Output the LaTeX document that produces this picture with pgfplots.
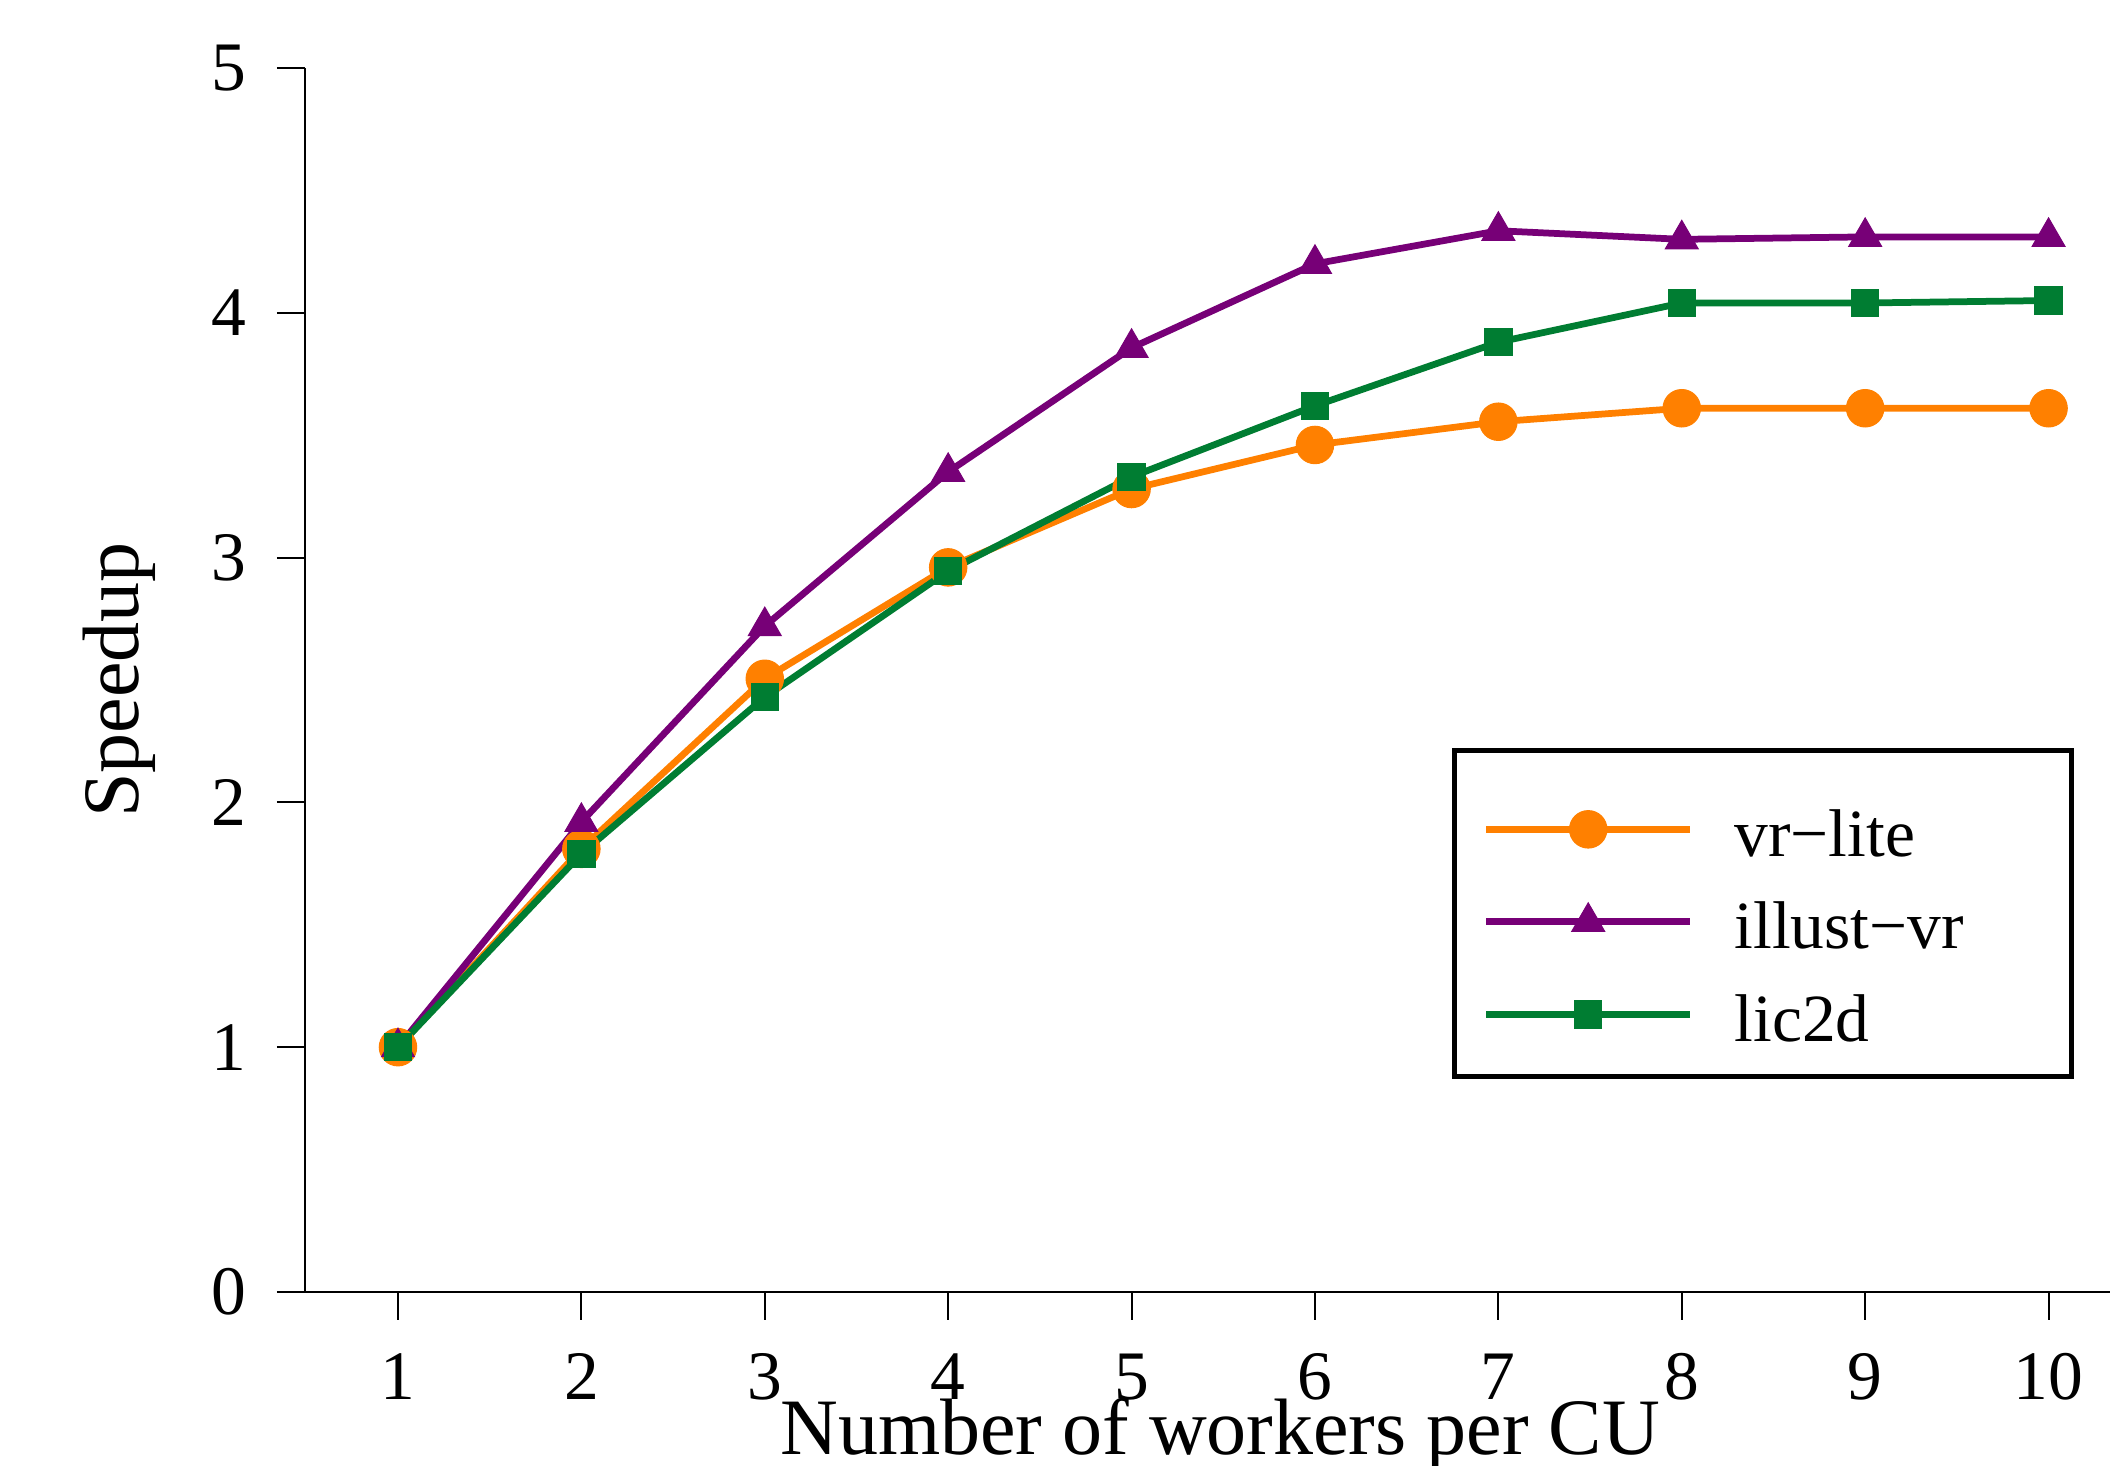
\documentclass[border=0pt]{standalone}
\usepackage{pgfplots}
\pgfplotsset{compat=1.18}
\usepackage{fontspec}
\setmainfont{Liberation Serif}
\definecolor{cOrange}{RGB}{255,128,0}
\definecolor{cPurple}{RGB}{119,0,119}
\definecolor{cGreen}{RGB}{0,125,50}
\begin{document}
\begin{tikzpicture}
% picture frame: 2110x1466 px at 0.2pt per px
\path[use as bounding box] (-61pt,-34.8pt) rectangle (361pt,258.4pt);
\begin{axis}[
  scale only axis, width=361pt, height=244.8pt,
  xmin=0.493, xmax=10.335, ymin=0, ymax=5,
  axis x line=bottom, axis y line=left,
  axis line style={-, line width=0.4pt},
  tick style={line width=0.4pt, black},
  tick align=outside, major tick length=5.6pt,
  xtick={1,...,10}, ytick={0,...,5},
  /pgf/number format/assume math mode=true,
  ticklabel style={font=\fontsize{13.9}{16}\selectfont},
  xticklabel style={yshift=-3.2pt},
  yticklabel style={xshift=-2.7pt},
  label style={font=\fontsize{16}{19}\selectfont},
  xlabel={Number of workers per CU},
  xlabel style={at={(axis description cs:0.507,0)}, anchor=base, yshift=-32.6pt},
  ylabel={Speedup},
  ylabel style={at={(axis description cs:-0.092,0.5)}, anchor=base},
  every axis plot/.append style={line width=1.35pt, mark options={line width=0.2pt}},
  legend cell align=left,
  legend image code/.code={\draw[mark repeat=2,mark phase=2] plot coordinates {(0pt,0pt) (20.4pt,0pt) (40.8pt,0pt)};},
  legend style={at={(axis description cs:0.652,0.4125)}, anchor=north west,
    draw=none, fill=none, inner sep=0pt,
    font=\fontsize{13.5}{16}\selectfont,
    row sep=2pt, column sep=6.2pt,
    nodes={text height=11.6pt, text depth=0.9pt}},
]
\addplot[cOrange, mark=*, mark size=3.75pt] coordinates {
  (1,1.00) (2,1.81) (3,2.505) (4,2.96) (5,3.28) (6,3.46) (7,3.555) (8,3.61) (9,3.61) (10,3.61)};
\addlegendentry{vr−lite}
\addplot[cPurple, mark=triangle*, mark size=3.8pt] coordinates {
  (1,1.00) (2,1.92) (3,2.72) (4,3.35) (5,3.857) (6,4.20) (7,4.335) (8,4.30) (9,4.31) (10,4.31)};
\addlegendentry{illust−vr}
\addplot[cGreen, mark=square*, mark size=2.75pt] coordinates {
  (1,1.00) (2,1.79) (3,2.43) (4,2.945) (5,3.33) (6,3.62) (7,3.88) (8,4.04) (9,4.04) (10,4.05)};
\addlegendentry{lic2d}
% legend frame
\draw[line width=1pt] (axis description cs:0.6366,0.1757) rectangle (axis description cs:0.9784,0.4428);
\end{axis}
\end{tikzpicture}
\end{document}
